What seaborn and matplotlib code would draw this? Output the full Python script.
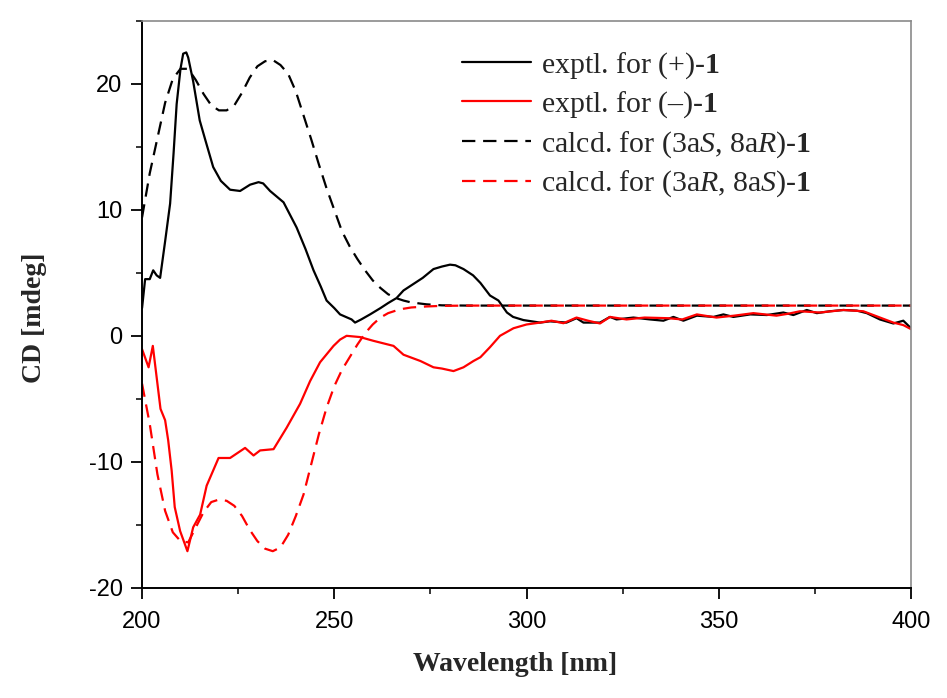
import matplotlib
matplotlib.use("Agg")
import matplotlib.pyplot as plt
from matplotlib.ticker import MultipleLocator
import pandas as pd
import seaborn as sns

# exptl. for (+)-1
wl_pos = [200, 200.8, 202, 202.9, 203.8, 204.7, 206, 207.3, 208.2, 209, 210, 210.7, 211.5, 212,
          213.3, 215, 216.5, 218.5, 220.5, 222.9, 225.5, 228.1, 230.3, 231.5, 233.3, 236.8, 240.2,
          242.5, 244.6, 246.5, 248, 250, 251.5, 253, 254.5, 255.4, 257, 259.3, 262, 264, 266.2, 268,
          270.5, 273, 275.8, 278, 280.1, 281.5, 283.6, 286.1, 288, 290.5, 292.7, 294.9, 296.5, 299.2,
          303.5, 306.1, 310.4, 313, 314.8, 319.1, 321.7, 323.4, 327.8, 332.1, 335.6, 338.2, 340.8,
          344.3, 348.6, 351.2, 353.8, 358.2, 362.5, 366.8, 369.4, 372.9, 375.5, 378.9, 382.4, 385.9,
          388.5, 391.9, 395.4, 398, 400]
cd_pos = [2.2, 4.5, 4.5, 5.2, 4.8, 4.6, 7.5, 10.5, 14.5, 18.4, 21.2, 22.4, 22.5, 22.1,
          20.2, 17.1, 15.5, 13.4, 12.3, 11.6, 11.5, 12.0, 12.2, 12.1, 11.5, 10.6, 8.6,
          6.9, 5.2, 3.9, 2.8, 2.2, 1.7, 1.5, 1.3, 1.05, 1.3, 1.7, 2.2, 2.6, 3.0, 3.6,
          4.1, 4.6, 5.3, 5.5, 5.65, 5.6, 5.3, 4.8, 4.2, 3.2, 2.8, 1.85, 1.5, 1.25,
          1.05, 1.15, 1.05, 1.4, 1.05, 1.05, 1.5, 1.3, 1.45, 1.3, 1.2, 1.5, 1.2,
          1.6, 1.5, 1.7, 1.5, 1.7, 1.65, 1.85, 1.65, 2.05, 1.8, 1.95, 2.05, 2.0,
          1.8, 1.3, 0.98, 1.2, 0.6]

# exptl. for (-)-1
wl_neg = [200, 201.7, 202.8, 203.8, 204.8, 206, 206.8, 207.7, 208.5, 209.9, 211.8, 213.3, 215.1,
          216.8, 219.9, 222.9, 226.8, 229, 230.7, 234.2, 237.6, 241.1, 243.7, 246.3, 249.8, 251.5,
          253.2, 256.7, 260.2, 265.4, 268, 272.4, 275.8, 278, 281, 283.6, 286.2, 288, 290.5, 293.1,
          296.6, 300, 303.5, 306.5, 309.6, 313, 316, 319.1, 321.7, 326, 330.7, 336.7, 340.5, 344.3,
          349.4, 354, 359, 365, 368, 371.1, 376.3, 382.4, 387.6, 391.5, 395.4, 398, 400]
cd_neg = [-1.06, -2.5, -0.8, -3.3, -5.8, -6.7, -8.3, -10.7, -13.6, -15.5, -17.1, -15.2, -14.2,
          -11.9, -9.7, -9.7, -8.9, -9.5, -9.1, -9.0, -7.3, -5.4, -3.6, -2.1, -0.8, -0.3,
          0.0, -0.1, -0.4, -0.8, -1.5, -2.0, -2.5, -2.6, -2.8, -2.5, -2.0, -1.7, -0.9, 0.0,
          0.6, 0.9, 1.05, 1.2, 1.0, 1.45, 1.2, 0.98, 1.5, 1.3, 1.45, 1.4, 1.3, 1.7,
          1.45, 1.6, 1.8, 1.6, 1.75, 1.95, 1.85, 2.05, 1.95, 1.5, 1.05, 0.85, 0.53]

# calcd. for (3aS, 8aR)-1
wl_calc_sr = [200, 202, 204, 206, 208, 210, 212, 214, 216, 218, 220, 222, 224, 226, 228, 230, 232,
              234, 236, 238, 240, 242, 244, 246, 248, 250, 252, 254, 256, 258, 260, 262, 264, 266,
              268, 270, 274, 278, 285, 300, 400]
cd_calc_sr = [9.4, 12.9, 15.7, 18.5, 20.4, 21.2, 21.2, 20.3, 19.2, 18.3, 17.9, 17.9, 18.3, 19.3,
              20.5, 21.4, 21.8, 21.9, 21.5, 20.8, 19.4, 17.5, 15.6, 13.6, 11.7, 10.0, 8.3, 7.1,
              6.1, 5.2, 4.4, 3.8, 3.3, 3.0, 2.8, 2.65, 2.5, 2.42, 2.4, 2.4, 2.4]

# calcd. for (3aR, 8aS)-1
wl_calc_rs = [200, 202, 204, 206, 208, 210, 212, 214, 216, 218, 220, 222, 224, 226, 228, 230, 232,
              234, 236, 238, 240, 242, 244, 246, 248, 250, 252, 254, 256, 258, 260, 262, 264, 266,
              268, 270, 274, 278, 285, 300, 400]
cd_calc_rs = [-3.8, -7.0, -11.0, -13.9, -15.6, -16.3, -16.4, -15.2, -14.0, -13.2, -13.0, -13.1,
              -13.5, -14.3, -15.4, -16.3, -16.9, -17.1, -16.8, -15.8, -14.3, -12.6, -10.2, -7.8,
              -5.7, -4.0, -2.7, -1.7, -0.7, 0.2, 0.9, 1.45, 1.8, 2.0, 2.15, 2.25, 2.33, 2.38,
              2.4, 2.4, 2.4]

labels = ["exptl. for (+)-$\\mathbf{1}$",
          "exptl. for (\u2013)-$\\mathbf{1}$",
          "calcd. for (3a$\\mathit{S}$, 8a$\\mathit{R}$)-$\\mathbf{1}$",
          "calcd. for (3a$\\mathit{R}$, 8a$\\mathit{S}$)-$\\mathbf{1}$"]

sns.set_style("ticks")
plt.rcParams["font.family"] = ["Liberation Sans", "DejaVu Sans"]
plt.rcParams["axes.unicode_minus"] = False
plt.rcParams["mathtext.fontset"] = "custom"
plt.rcParams["mathtext.rm"] = "Liberation Serif"
plt.rcParams["mathtext.it"] = "Liberation Serif:italic"
plt.rcParams["mathtext.bf"] = "Liberation Serif:bold"

fig = plt.figure(figsize=(9.47, 6.98), dpi=100)
ax = fig.add_axes([0.150, 0.158, 0.812, 0.812])

series = [
    (wl_pos, cd_pos, "black", "-"),
    (wl_neg, cd_neg, "#ff0000", "-"),
    (wl_calc_sr, cd_calc_sr, "black", (0, (6, 3.5))),
    (wl_calc_rs, cd_calc_rs, "#ff0000", (0, (6, 3.5))),
]
for (x, y, c, ls), lab in zip(series, labels):
    df = pd.DataFrame({"wl": x, "cd": y})
    sns.lineplot(data=df, x="wl", y="cd", ax=ax, color=c, linestyle=ls,
                 linewidth=1.6, label=lab, sort=False, estimator=None)

ax.set_xlim(200, 400)
ax.set_ylim(-20, 25)
ax.xaxis.set_major_locator(MultipleLocator(50))
ax.xaxis.set_minor_locator(MultipleLocator(25))
ax.yaxis.set_major_locator(MultipleLocator(10))
ax.yaxis.set_minor_locator(MultipleLocator(5))
ax.tick_params(which="major", direction="out", length=8, width=1.3, labelsize=17,
               colors="black")
ax.tick_params(which="minor", direction="out", length=4.5, width=1.3)
ax.tick_params(axis="x", which="major", pad=9)
ax.tick_params(axis="y", which="major", pad=6)

for side in ["left", "bottom"]:
    ax.spines[side].set_color("black")
    ax.spines[side].set_linewidth(1.4)
for side in ["top", "right"]:
    ax.spines[side].set_color("#8a8a8a")
    ax.spines[side].set_linewidth(1.2)

ax.set_xlabel("Wavelength [nm]", family="Liberation Serif", fontweight="bold", fontsize=20)
ax.set_ylabel("CD [mdeg]", family="Liberation Serif", fontweight="bold", fontsize=20)
ax.xaxis.set_label_coords(0.485, -0.113)
ax.yaxis.set_label_coords(-0.1235, 0.476)

ax.legend(loc="upper left", bbox_to_anchor=(0.416, 0.949), frameon=False, borderpad=0,
          borderaxespad=0, handlelength=2.3, handletextpad=0.35, labelspacing=0.3,
          prop={"family": "Liberation Serif", "size": 21.5})

fig.savefig("out.png", dpi=100)
